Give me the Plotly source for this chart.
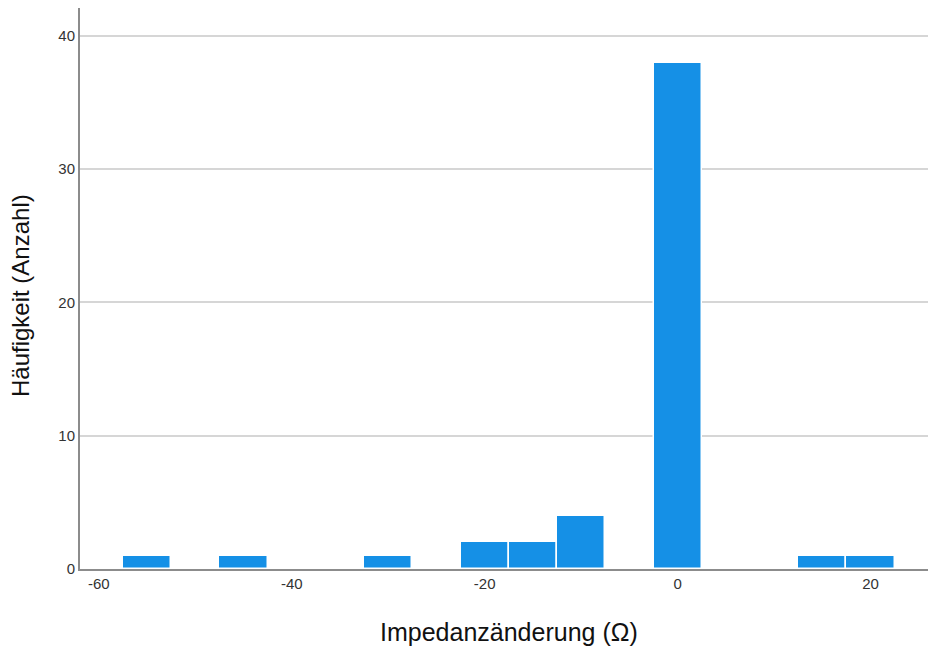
import plotly.graph_objects as go

bin_centers = [-55, -45, -30, -20, -15, -10, 0, 15, 20]
counts = [1, 1, 1, 2, 2, 4, 38, 1, 1]
bin_width = 5
x_tickvals = [-60, -40, -20, 0, 20]
x_ticktext = ["-60", "-40", "-20", "0", "20"]
y_tickvals = [0, 10, 20, 30, 40]
x_title = "Impedanzänderung (Ω)"
y_title = "Häufigkeit (Anzahl)"

fig = go.Figure()
fig.add_trace(go.Bar(
    x=bin_centers, y=counts, width=[bin_width] * len(bin_centers),
    marker=dict(color="#1590e6", line=dict(color="white", width=1.5)),
    showlegend=False,
))
fig.update_layout(
    width=928, height=650,
    margin=dict(l=80, r=0, t=8, b=81),
    plot_bgcolor="white", paper_bgcolor="white",
    font=dict(family="Liberation Sans, Arial, sans-serif", color="#222"),
    bargap=0,
    xaxis=dict(
        range=[-61.95, 25.95], tickvals=x_tickvals, ticktext=x_ticktext,
        showgrid=False, zeroline=False, showline=True,
        linecolor="#8c8c8c", linewidth=2, ticks="",
        tickfont=dict(size=15, color="#333"),
    ),
    yaxis=dict(
        range=[0, 42.1], tickvals=y_tickvals,
        showgrid=True, gridcolor="#d6d6d6", gridwidth=2,
        zeroline=False, showline=True, linecolor="#8c8c8c", linewidth=2,
        ticks="", ticklen=0,
        tickfont=dict(size=15, color="#333"),
    ),
    annotations=[
        dict(text=x_title, xref="paper", yref="paper", x=0.5, y=0,
             xshift=5, yshift=-63, xanchor="center", yanchor="middle",
             showarrow=False, font=dict(size=25, color="#111")),
        dict(text=y_title, xref="paper", yref="paper", x=0, y=0.4866,
             xshift=-60, xanchor="center", yanchor="middle", textangle=-90,
             showarrow=False, font=dict(size=24, color="#111")),
    ],
)
fig.write_html("out.html", config={"displayModeBar": False},
               post_script="document.body.style.margin='0';")
